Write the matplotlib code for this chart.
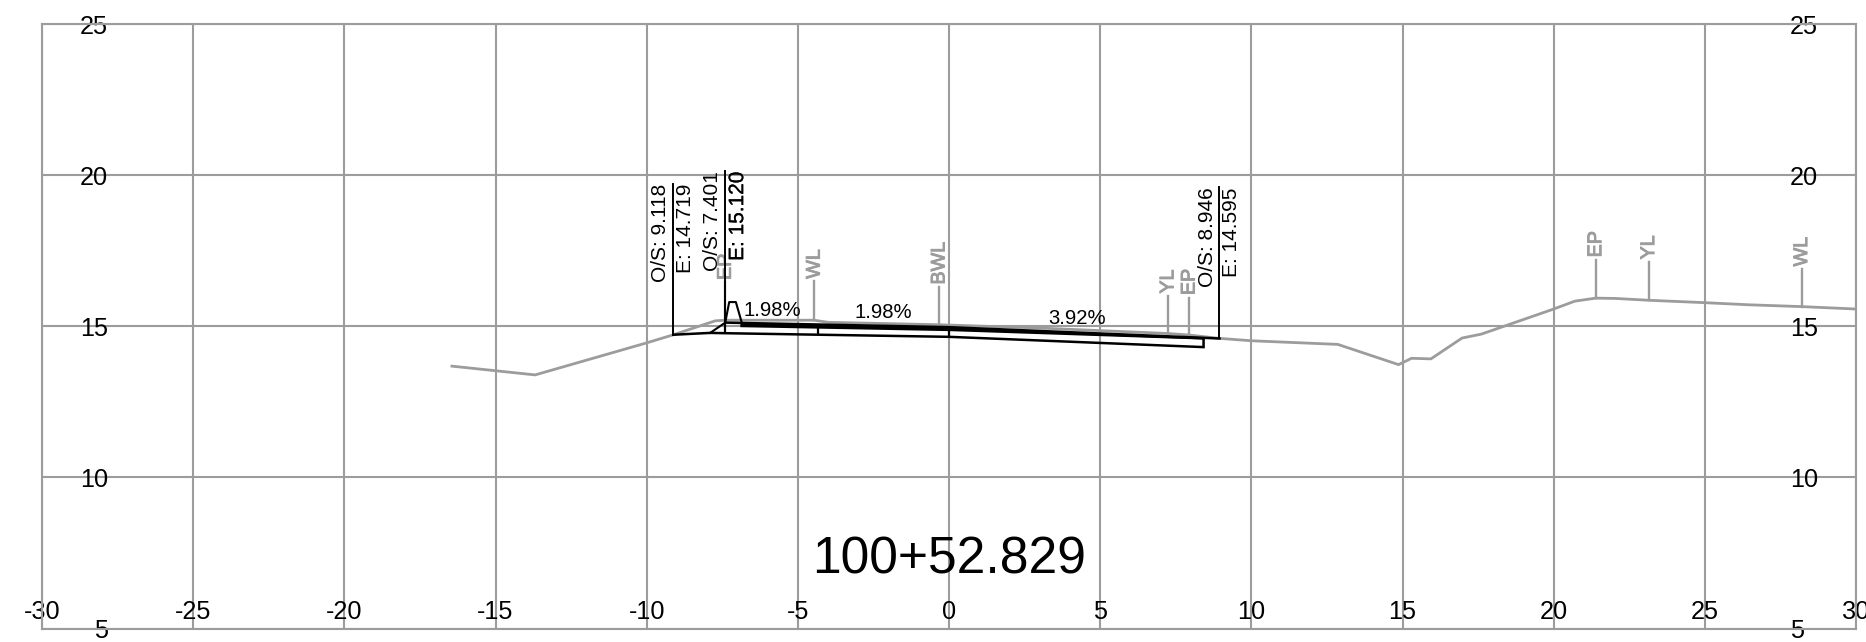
import matplotlib
matplotlib.use('Agg')
import matplotlib.pyplot as plt
import matplotlib.patheffects as pe

plt.rcParams['font.family'] = ['Liberation Sans', 'DejaVu Sans']

GRAY = '#9c9c9c'

x_ticks = list(range(-30, 31, 5))
y_ticks = list(range(5, 26, 5))

# Existing ground
ground_x = [-16.44, -13.69, -10.0, -9.11, -7.73, -7.40, -4.46, -4.0, -0.33, 3.0, 7.24, 7.94, 8.93, 10.0,
            12.86, 14.87, 15.3, 15.94, 16.97, 17.61, 20.0, 20.7, 21.39, 22.04, 23.14, 25.0, 26.46, 28.2, 30.0]
ground_y = [13.68, 13.39, 14.45, 14.72, 15.18, 15.2, 15.2, 15.13, 15.05, 14.94, 14.76, 14.71, 14.6, 14.52,
            14.4, 13.73, 13.94, 13.92, 14.61, 14.74, 15.57, 15.83, 15.93, 15.92, 15.86, 15.78, 15.71, 15.65, 15.57]

# Feature leaders
feature_names = ['EP', 'WL', 'BWL', 'YL', 'EP', 'EP', 'YL', 'WL']
feature_x = [-7.4, -4.46, -0.33, 7.24, 7.94, 21.39, 23.14, 28.2]
feature_base = [15.2, 15.2, 15.05, 14.76, 14.71, 15.93, 15.86, 15.65]
feature_top = [16.45, 16.49, 16.3, 16.0, 15.95, 17.2, 17.13, 16.9]

# Design surface
top_x = [-7.401, 0.0, 8.946]
top_y = [15.12, 14.97, 14.595]
mid_x = [-6.86, 0.0, 8.42]
mid_y = [15.06, 14.925, 14.6]
layer_x = [-6.86, 0.0, 8.42]
layer_y = [15.01, 14.88, 14.6]
bottom_x = [-9.118, -7.9, -7.401, -4.32, 0.0, 8.42, 8.42]
bottom_y = [14.719, 14.78, 14.77, 14.72, 14.65, 14.31, 14.6]
curb_x = [-7.9, -7.401, -7.27, -7.05, -6.86]
curb_y = [14.78, 15.12, 15.8, 15.8, 15.14]
joint_x = [-7.401, -4.32, 0.0]
joint_top = [15.12, 15.04, 14.97]
joint_bottom = [14.77, 14.72, 14.65]

# Offset callouts
callout_x = [-9.118, -7.401, 8.946]
callout_base = [14.719, 14.77, 14.595]
callout_top = [19.72, 20.12, 19.6]
os_labels = ['O/S: 9.118', 'O/S: 7.401', 'O/S: 8.946']
el_labels = ['E: 14.719', 'E: 15.120', 'E: 14.595']
el_stroke = [0.0, 0.15, 0.0]

slope_labels = ['1.98%', '1.98%', '3.92%']
slope_x = [-5.85, -2.16, 4.23]
slope_y = [15.33, 15.26, 15.09]

station = '100+52.829'

fig = plt.figure(figsize=(18.66, 6.42), dpi=100)
ax = fig.add_axes([42 / 1866, 1 - 628.5 / 642, 1814 / 1866, 604.5 / 642])
ax.set_xlim(-30, 30)
ax.set_ylim(5, 25)

ax.set_xticks(x_ticks)
ax.set_xticklabels([str(v) for v in x_ticks])
ax.set_yticks(y_ticks)
ax.set_yticklabels([str(v) for v in y_ticks])
ax.grid(True, color=GRAY, linewidth=1.5, zorder=0)
ax.set_axisbelow(True)
for spine in ax.spines.values():
    spine.set_color(GRAY)
    spine.set_linewidth(1.5)
ax.tick_params(axis='x', length=0, labelsize=18.2, pad=-20.5)
ax.tick_params(axis='y', length=0, labelsize=18.2, pad=-47.5, labelleft=True, labelright=True)

# Ground and feature labels
ax.plot(ground_x, ground_y, color=GRAY, linewidth=2.0, zorder=2)
for name, fx, base, top in zip(feature_names, feature_x, feature_base, feature_top):
    ax.plot([fx, fx], [base, top], color=GRAY, linewidth=1.7, zorder=2)
    t = ax.text(fx, top + 0.08, name, color=GRAY, fontsize=14.2, rotation=90, ha='center', va='bottom', zorder=2)
    t.set_path_effects([pe.withStroke(linewidth=0.7, foreground=GRAY)])

# Design section
ax.plot(top_x, top_y, color='black', linewidth=1.8, zorder=3)
ax.plot(mid_x, mid_y, color='black', linewidth=1.6, zorder=3)
ax.plot(layer_x, layer_y, color='black', linewidth=1.8, zorder=3)
ax.plot(bottom_x, bottom_y, color='black', linewidth=1.8, zorder=3, solid_joinstyle='miter')
ax.plot(curb_x, curb_y, color='black', linewidth=1.5, zorder=3)
for jx, y0, y1 in zip(joint_x, joint_bottom, joint_top):
    ax.plot([jx, jx], [y0, y1], color='black', linewidth=1.6, zorder=3, solid_capstyle='butt')

# Callouts
for cx, base, top, os_text, el_text, stroke in zip(callout_x, callout_base, callout_top, os_labels, el_labels, el_stroke):
    ax.plot([cx, cx], [base, top], color='black', linewidth=1.4, zorder=3)
    ax.text(cx - 0.41, top, os_text, fontsize=15, rotation=90, ha='center', va='top', zorder=4)
    t = ax.text(cx + 0.41, top, el_text, fontsize=15, rotation=90, ha='center', va='top', zorder=4)
    if stroke:
        t.set_path_effects([pe.withStroke(linewidth=stroke, foreground='black')])

for label, sx, sy in zip(slope_labels, slope_x, slope_y):
    ax.text(sx, sy, label, fontsize=14.6, ha='center', va='baseline', zorder=4)

ax.text(0, 7.27, station, fontsize=37.2, ha='center', va='center', zorder=4)

fig.savefig('out.png', dpi=100)
